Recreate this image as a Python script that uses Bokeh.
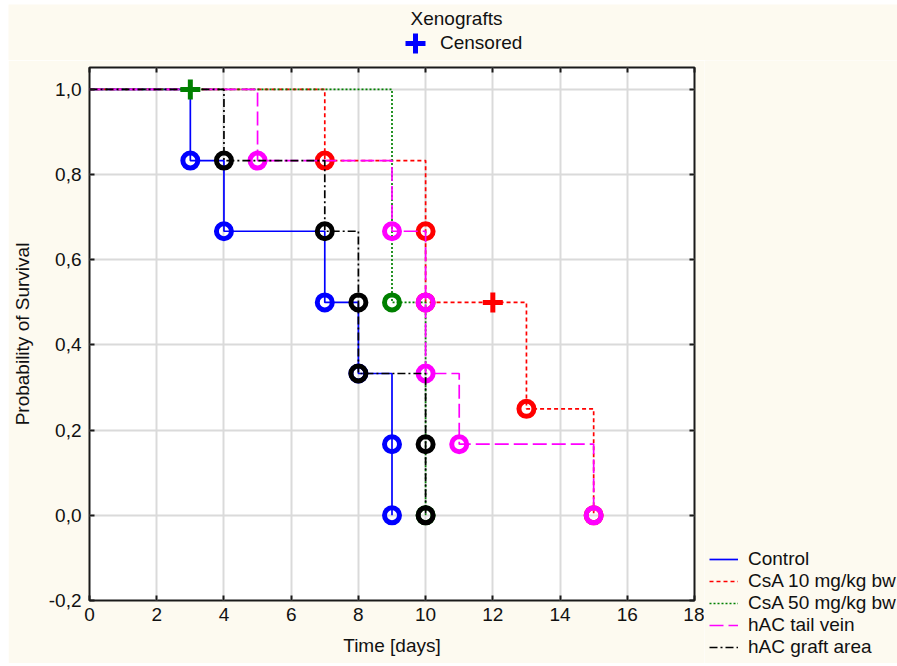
from bokeh.plotting import figure
from bokeh.models import (Range1d, LinearAxis, FixedTicker, CustomJSTickFormatter,
                          Legend, LegendItem, Label, Spacer)
from bokeh.layouts import column, row
from bokeh.embed import file_html
from bokeh.resources import INLINE

FONT = "Liberation Sans"
FS = "19px"
CREAM = "#fdfaf0"

groups = ["Control", "CsA 10 mg/kg bw", "CsA 50 mg/kg bw", "hAC tail vein", "hAC graft area"]
colors = ["#0000ff", "#ff0000", "#008000", "#ff00ff", "#000000"]
dashes = ["solid", "4 3", "2 2", "14 5", "8 3 2 3"]

# Kaplan-Meier step curves (time, survival)
control_t = [0, 3, 4, 7, 8, 9]
control_s = [1.0, 0.833, 0.667, 0.5, 0.333, 0.0]
csa10_t = [0, 7, 10, 13, 15]
csa10_s = [1.0, 0.833, 0.5, 0.25, 0.0]
csa50_t = [0, 9, 10]
csa50_s = [1.0, 0.5, 0.0]
tail_t = [0, 5, 9, 10, 11, 15]
tail_s = [1.0, 0.833, 0.667, 0.333, 0.167, 0.0]
graft_t = [0, 4, 7, 8, 10]
graft_s = [1.0, 0.833, 0.667, 0.333, 0.0]

# complete (event) markers
control_ev_t = [3, 4, 7, 8, 9, 9]
control_ev_s = [0.833, 0.667, 0.5, 0.333, 0.167, 0.0]
csa10_ev_t = [7, 10, 10, 13, 15]
csa10_ev_s = [0.833, 0.667, 0.5, 0.25, 0.0]
csa50_ev_t = [9, 10]
csa50_ev_s = [0.5, 0.0]
tail_ev_t = [5, 9, 10, 10, 11, 15]
tail_ev_s = [0.833, 0.667, 0.5, 0.333, 0.167, 0.0]
graft_ev_t = [4, 7, 8, 8, 10, 10]
graft_ev_s = [0.833, 0.667, 0.5, 0.333, 0.167, 0.0]

# censored observations
cens_t = [12, 3]
cens_s = [0.5, 1.0]
cens_color = ["#ff0000", "#008000"]

x_ticks = [0, 2, 4, 6, 8, 10, 12, 14, 16, 18]
y_ticks = [-0.2, 0.0, 0.2, 0.4, 0.6, 0.8, 1.0]

steps = [(control_t, control_s), (csa10_t, csa10_s), (csa50_t, csa50_s),
         (tail_t, tail_s), (graft_t, graft_s)]
events = [(control_ev_t, control_ev_s), (csa10_ev_t, csa10_ev_s), (csa50_ev_t, csa50_ev_s),
          (tail_ev_t, tail_ev_s), (graft_ev_t, graft_ev_s)]

PAD_L = 8
PAD_T = 4
HEAD_H = 56
MAIN_H = 7 + 533 + 63
MAIN_W = 80 + 605 + 10
LEG_W = 194

# legend-key renderers live in helper figures, outside their visible ranges
KEY_X = [-2.0, -1.0]
KEY_Y = [-2.0, -2.0]


def blank_fig(w, h):
    f = figure(width=w, height=h, x_range=Range1d(0, 1), y_range=Range1d(0, 1),
               x_axis_type=None, y_axis_type=None, min_border=0,
               output_backend="svg", toolbar_location=None)
    f.background_fill_color = CREAM
    f.border_fill_color = CREAM
    f.outline_line_color = None
    f.grid.visible = False
    return f


# ---------------- main plot ----------------
p = figure(frame_width=605, frame_height=533,
           min_border_left=80, min_border_right=10, min_border_top=7, min_border_bottom=63,
           x_range=Range1d(0, 18), y_range=Range1d(-0.2, 1.0515),
           output_backend="svg", toolbar_location=None)

p.background_fill_color = "white"
p.border_fill_color = CREAM
p.outline_line_color = "#1a1a1a"
p.outline_line_width = 2

for g in (p.xgrid, p.ygrid):
    g.grid_line_color = "#dadada"
    g.grid_line_width = 2
p.xgrid.ticker = FixedTicker(ticks=x_ticks)
p.ygrid.ticker = FixedTicker(ticks=y_ticks)

yfmt = CustomJSTickFormatter(code="return tick.toFixed(1).replace('.', ',');")
xfmt = CustomJSTickFormatter(code="return tick.toFixed(0);")
blank = CustomJSTickFormatter(code="return '';")


def style_axis(ax):
    ax.axis_line_color = None
    ax.major_tick_in = 5
    ax.major_tick_out = 0
    ax.major_tick_line_color = "#1a1a1a"
    ax.major_tick_line_width = 2
    ax.minor_tick_line_color = None
    ax.major_label_text_font = FONT
    ax.major_label_text_font_size = FS
    ax.major_label_text_color = "#111111"
    ax.axis_label_text_font = FONT
    ax.axis_label_text_font_size = FS
    ax.axis_label_text_font_style = "normal"
    ax.axis_label_text_color = "#111111"


xa = p.xaxis[0]
ya = p.yaxis[0]
style_axis(xa)
style_axis(ya)
xa.ticker = FixedTicker(ticks=x_ticks)
ya.ticker = FixedTicker(ticks=y_ticks)
xa.formatter = xfmt
ya.formatter = yfmt
xa.axis_label = "Time [days]"
ya.axis_label = "Probability of Survival"
xa.major_label_standoff = 7
ya.major_label_standoff = 8
xa.axis_label_standoff = 11
ya.axis_label_standoff = 13

top = LinearAxis(ticker=FixedTicker(ticks=x_ticks), formatter=blank)
right = LinearAxis(ticker=FixedTicker(ticks=y_ticks), formatter=blank)
for ax in (top, right):
    style_axis(ax)
    ax.major_label_standoff = 0
p.add_layout(top, "above")
p.add_layout(right, "right")

for name, col, dash, (st, ss), (et, es) in zip(groups, colors, dashes, steps, events):
    p.step(x=st, y=ss, mode="after", line_color=col, line_width=1.7, line_dash=dash)
    p.scatter(x=et, y=es, marker="circle", size=15, line_width=5,
              line_color=col, fill_color=None)

p.scatter(x=cens_t, y=cens_s, marker="cross", size=20, line_width=5,
          line_color=cens_color, fill_color=None)

# ---------------- legend panel (right) ----------------
lf = blank_fig(LEG_W, MAIN_H)
items = []
for name, col, dash in zip(groups, colors, dashes):
    r = lf.line(x=KEY_X, y=KEY_Y, line_color=col, line_width=1.7, line_dash=dash)
    items.append(LegendItem(label=name, renderers=[r]))
legend = Legend(items=items, location=(5, 5), padding=0, margin=0, spacing=0,
                glyph_width=29, glyph_height=22, label_height=22, label_standoff=10,
                label_text_font=FONT, label_text_font_size=FS, label_text_color="#111111",
                background_fill_alpha=0, border_line_alpha=0)
lf.add_layout(legend, "center")

# ---------------- header (title + censored key) ----------------
hf = blank_fig(MAIN_W + LEG_W, HEAD_H)
cens_key = hf.scatter(x=KEY_X[:1], y=KEY_Y[:1], marker="cross", size=20, line_width=5,
                      line_color="#0000ff", fill_color=None)
head = Legend(items=[LegendItem(label="Censored", renderers=[cens_key])],
              location=(390 - PAD_L, -8), padding=0, margin=0, spacing=0,
              glyph_width=50, glyph_height=50, label_height=22, label_standoff=-13,
              label_text_font=FONT, label_text_font_size=FS, label_text_color="#111111",
              background_fill_alpha=0, border_line_alpha=0)
hf.add_layout(head, "center")
hf.add_layout(Label(x=456 - PAD_L, y=HEAD_H - 14, x_units="screen", y_units="screen",
                    text="Xenografts", text_align="center", text_baseline="middle",
                    text_font=FONT, text_font_size=FS, text_color="#111111"), "center")

body = column(hf, row(p, column(lf)))
layout = column(Spacer(width=PAD_L + MAIN_W + LEG_W, height=PAD_T),
                row(Spacer(width=PAD_L, height=HEAD_H + MAIN_H), body))
open("out.html", "w").write(file_html(layout, INLINE))
